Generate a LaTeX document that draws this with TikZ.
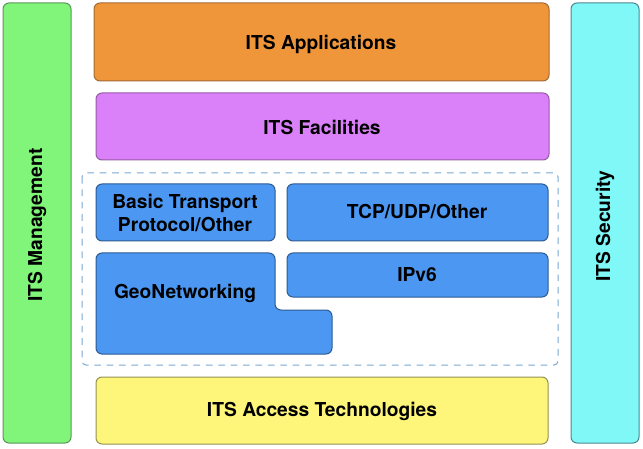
\documentclass[tikz,border=0pt]{standalone}
\usepackage{fontspec}
\setmainfont{TeX Gyre Heros}

\definecolor{mgmtfill}{RGB}{128,245,122}
\definecolor{mgmtline}{RGB}{90,150,90}
\definecolor{appfill}{RGB}{240,150,58}
\definecolor{appline}{RGB}{165,105,50}
\definecolor{facfill}{RGB}{218,128,248}
\definecolor{facline}{RGB}{150,90,165}
\definecolor{netfill}{RGB}{75,151,242}
\definecolor{netline}{RGB}{45,90,145}
\definecolor{netdash}{RGB}{120,168,210}
\definecolor{accfill}{RGB}{253,246,122}
\definecolor{accline}{RGB}{150,145,80}
\definecolor{secfill}{RGB}{128,248,248}
\definecolor{secline}{RGB}{75,135,145}

\tikzset{every picture/.style={line width=0.75pt}}
\tikzset{
  layerbox/.style={rounded corners=4.5},
  layertext/.style={font=\fontsize{14.4}{17.5}\selectfont\bfseries, align=center}
}

\begin{document}
\begin{tikzpicture}[x=0.75pt,y=0.75pt,yscale=-1,xscale=1]
\useasboundingbox (0,0) rectangle (643,449);

%Shape: Rectangle [id:management]
\draw [layerbox, draw=mgmtline, fill=mgmtfill] (3,3) rectangle (71,443) ;
%Shape: Rectangle [id:applications]
\draw [layerbox, draw=appline, fill=appfill] (94,3) rectangle (549,81) ;
%Shape: Rectangle [id:facilities]
\draw [layerbox, draw=facline, fill=facfill] (96,93) rectangle (549,160) ;
%Shape: Rectangle [id:networking frame]
\draw [rounded corners=3, draw=netdash, dash pattern={on 5pt off 4.3pt}] (82,173) rectangle (558,365) ;
%Shape: Rectangle [id:btp]
\draw [layerbox, draw=netline, fill=netfill] (96,184) rectangle (275,241) ;
%Shape: Rectangle [id:tcp]
\draw [layerbox, draw=netline, fill=netfill] (287,184) rectangle (548,241) ;
%Shape: Rectangle [id:ipv6]
\draw [layerbox, draw=netline, fill=netfill] (287,253) rectangle (548,297) ;
%Shape: Polygon [id:geonetworking]
\draw [layerbox, draw=netline, fill=netfill] (96,253) -- (275,253) -- (275,310) -- (332,310) -- (332,354) -- (96,354) -- cycle ;
%Shape: Rectangle [id:access]
\draw [layerbox, draw=accline, fill=accfill] (96,377) rectangle (548,444) ;
%Shape: Rectangle [id:security]
\draw [layerbox, draw=secline, fill=secfill] (571,3) rectangle (639,443) ;

% Text Node
\node [layertext] (app) at (321,44) {ITS Applications};
% Text Node
\node [layertext] (fac) at (322,127) {ITS Facilities};
% Text Node
\node [layertext] (btp) at (185,213) {Basic Transport\\Protocol/Other};
% Text Node
\node [layertext] (tcp) at (417,212) {TCP/UDP/Other};
% Text Node
\node [layertext] (ipv) at (417,275) {IPv6};
% Text Node
\node [layertext] (geo) at (185,293) {GeoNetworking};
% Text Node
\node [layertext] (acc) at (322,411) {ITS Access Technologies};
% Text Node
\node [layertext, rotate=90] (mgmt) at (37,225) {ITS Management};
% Text Node
\node [layertext, rotate=90] (sec) at (605,226) {ITS Security};

\end{tikzpicture}
\end{document}
